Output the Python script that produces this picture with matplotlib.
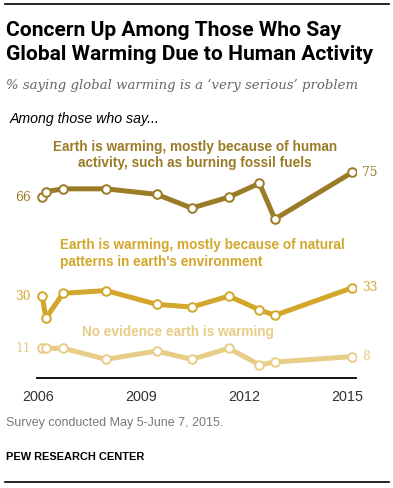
import matplotlib.pyplot as plt

# survey dates (fractional years) and % saying 'very serious'
years = [2006.13, 2006.24, 2006.74, 2007.99, 2009.46, 2010.48, 2011.56, 2012.45, 2012.90, 2015.15]
human = [66, 68, 69, 69, 67, 62, 66, 71, 58, 75]
natural = [30, 22, 31, 32, 27, 26, 30, 25, 23, 33]
no_evidence = [11, 11, 11, 7, 10, 7, 11, 5, 6, 8]

tick_years = [2006, 2009, 2012, 2015]

c_human = '#9a7b26'
c_natural = '#d2a72c'
c_none = '#e8cd86'

W, H = 393, 488
fig = plt.figure(figsize=(W / 100, H / 100), dpi=100)


def fx(px):
    return px / W


def fy(py):
    return 1 - py / H


# axes placed in pixel space: left 37 -> right 356, top 130 -> bottom 377.7
ax = fig.add_axes([fx(37), fy(377.7), fx(356 - 37), (377.7 - 130) / H])
ax.set_xlim(2005.98, 2015.26)
ax.set_ylim(0.31, 90.4)

for vals, col in [(human, c_human), (natural, c_natural), (no_evidence, c_none)]:
    ax.plot(years, vals, color=col, lw=3.6, marker='o', ms=6.2, mfc='white',
            mec=col, mew=1.4, solid_capstyle='round', zorder=3)

for s in ['top', 'right', 'left']:
    ax.spines[s].set_visible(False)
ax.spines['bottom'].set_color('black')
ax.spines['bottom'].set_linewidth(1.3)
ax.set_yticks([])
ax.set_xticks(tick_years)
ax.set_xticklabels([str(y) for y in tick_years], family='Liberation Sans',
                   fontsize=10.4, color='#333333')
ax.tick_params(axis='x', length=0, pad=9)

# end value labels
ser = 'DejaVu Serif'
for vals, col in [(human, c_human), (natural, c_natural), (no_evidence, c_none)]:
    ax.annotate(str(vals[0]), (years[0], vals[0]), xytext=(-8, 0), textcoords='offset points',
                ha='right', va='center', fontsize=8.8, family=ser, color=col)
    ax.annotate(str(vals[-1]), (years[-1], vals[-1]), xytext=(7, 0), textcoords='offset points',
                ha='left', va='center', fontsize=8.8, family=ser, color=col)

# series labels
lab = dict(family='Liberation Sans', fontweight='bold', fontsize=9.8)
fig.text(fx(195), fy(147), 'Earth is warming, mostly because of human', ha='center', va='center',
         color=c_human, **lab)
fig.text(fx(195), fy(163), 'activity, such as burning fossil fuels', ha='center', va='center',
         color=c_human, **lab)
fig.text(fx(60), fy(245), 'Earth is warming, mostly because of natural', ha='left', va='center',
         color=c_natural, **lab)
fig.text(fx(60), fy(262), "patterns in earth's environment", ha='left', va='center',
         color=c_natural, **lab)
fig.text(fx(82), fy(332), 'No evidence earth is warming', ha='left', va='center',
         color=c_none, **lab)

# header
fig.add_artist(plt.Line2D([fx(5), fx(389)], [fy(4), fy(4)], color='black', lw=1.2))
fig.text(fx(6), fy(30), 'Concern Up Among Those Who Say', ha='left', va='center',
         family='Roboto', fontweight='bold', fontsize=15.1, color='black')
fig.text(fx(6), fy(55), 'Global Warming Due to Human Activity', ha='left', va='center',
         family='Roboto', fontweight='bold', fontsize=15.1, color='black')
fig.text(fx(6), fy(85), "% saying global warming is a \u2018very serious\u2019 problem", ha='left',
         va='center', family=ser, style='italic', fontsize=9.5, color='#666666')
fig.text(fx(10), fy(119), 'Among those who say...', ha='left', va='center',
         family='Liberation Sans', style='italic', fontsize=10.2, color='black')

# footer
fig.text(fx(6), fy(423), 'Survey conducted May 5-June 7, 2015.', ha='left', va='center',
         family='Liberation Sans', fontsize=9.0, color='#7a7a7a')
fig.text(fx(6), fy(457), 'PEW RESEARCH CENTER', ha='left', va='center',
         family='Liberation Sans', fontweight='bold', fontsize=7.9, color='black')
fig.add_artist(plt.Line2D([fx(5), fx(389)], [fy(482), fy(482)], color='black', lw=1.2))

fig.savefig('out.png', dpi=100)
